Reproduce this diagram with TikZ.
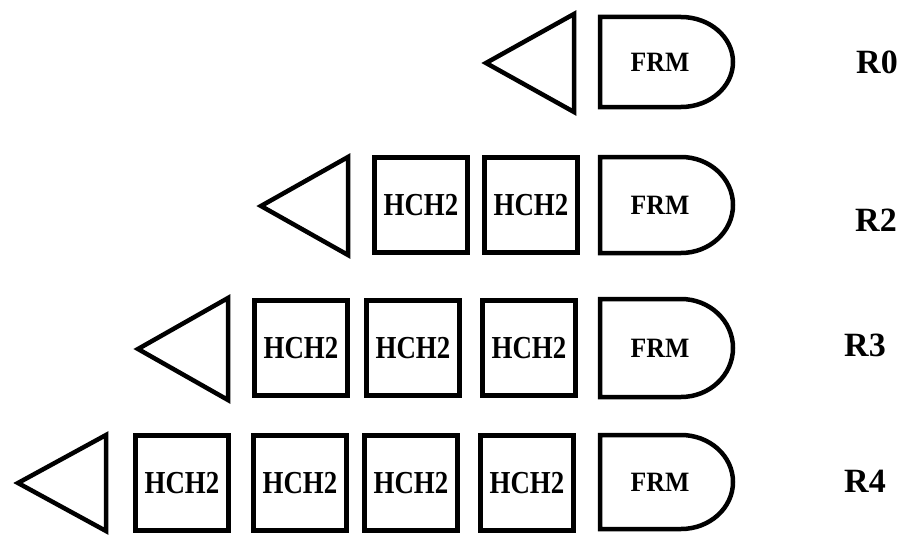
\documentclass[tikz,border=0pt]{standalone}
\usepackage{fontspec}
\setmainfont{Liberation Serif}
\tikzset{
  outline/.style={line width=4.5pt, line join=miter},
  hbox/.style={draw, line width=4.5pt, minimum width=93pt, minimum height=95pt, inner sep=0pt,
    font=\fontsize{32}{34}\selectfont\bfseries},
  frmtext/.style={inner sep=0pt, font=\fontsize{28}{30}\selectfont\bfseries},
  rlabel/.style={inner sep=0pt, font=\fontsize{34}{36}\selectfont\bfseries}
}
\newcommand\hch{\scalebox{0.84}[1]{HCH2}}
\newcommand\frmtxt{\scalebox{0.92}[1]{FRM}}
\newcommand\frmrow[3]{% name, y centre, half height
  \node[frmtext] (#1) at (660,#2) {\frmtxt};
  \draw[outline] (600,#2-#3) -- (681,#2-#3)
     arc[start angle=90,end angle=-90,x radius=52pt,y radius=#3 pt] -- (600,#2+#3) -- cycle;}
\newcommand\tri[4]{% tip x, right x, y centre, half height
  \draw[outline] (#1,#3) -- (#2,#3-#4) -- (#2,#3+#4) -- cycle;}
\begin{document}
\begin{tikzpicture}[x=1pt,y=-1pt]
\useasboundingbox (0,0) rectangle (905,535);
% R0
\tri{486}{574}{63}{49}
\frmrow{f0}{62}{45}
\node[rlabel] (r0) at (877,62) {R0};
% R2
\tri{261}{348}{206}{49}
\node[hbox] (b21) at (421,205) {\hch};
\node[hbox] (b22) at (531,205) {\hch};
\frmrow{f2}{205}{48}
\node[rlabel] (r2) at (876,220) {R2};
% R3
\tri{138}{228}{349}{51}
\node[hbox] (b31) at (301,348) {\hch};
\node[hbox] (b32) at (413,348) {\hch};
\node[hbox] (b33) at (529,348) {\hch};
\frmrow{f3}{348}{49}
\node[rlabel] (r3) at (865,345) {R3};
% R4
\tri{18}{106}{483}{48}
\node[hbox] (b41) at (182,483) {\hch};
\node[hbox] (b42) at (300,483) {\hch};
\node[hbox] (b43) at (411,483) {\hch};
\node[hbox] (b44) at (527,483) {\hch};
\frmrow{f4}{482}{47}
\node[rlabel] (r4) at (865,481) {R4};
\end{tikzpicture}
\end{document}
